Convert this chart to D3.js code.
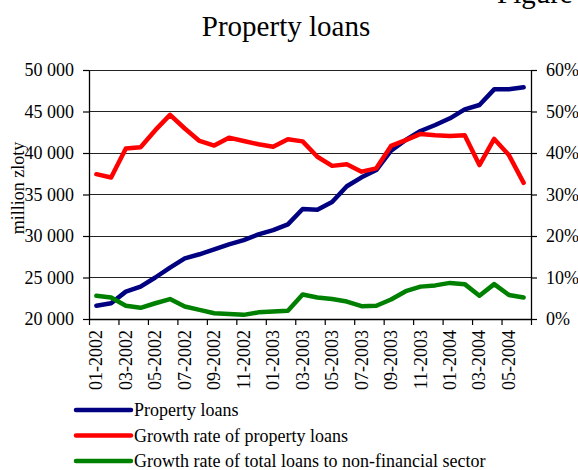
<!DOCTYPE html>
<html>
<head>
<meta charset="utf-8">
<script src="https://cdn.jsdelivr.net/npm/d3@7/dist/d3.min.js"></script>
<style>
  html, body { margin: 0; padding: 0; background: #fff; }
  svg { display: block; }
</style>
</head>
<body>
<svg id="chart" width="578" height="470"></svg>
<script>
// Monthly observations, 01-2002 .. 06-2004
const months = [
  "01-2002","02-2002","03-2002","04-2002","05-2002","06-2002","07-2002","08-2002","09-2002","10-2002","11-2002","12-2002",
  "01-2003","02-2003","03-2003","04-2003","05-2003","06-2003","07-2003","08-2003","09-2003","10-2003","11-2003","12-2003",
  "01-2004","02-2004","03-2004","04-2004","05-2004","06-2004"
];

// Property loans, million zloty (left axis)
const propertyLoans = [
  21600, 21900, 23300, 23900, 25000, 26200, 27300, 27800, 28400, 29000, 29500, 30200,
  30700, 31400, 33250, 33170, 34100, 36000, 37070, 37950, 40280, 41570, 42650, 43370,
  44180, 45260, 45780, 47670, 47670, 47910
];

// Growth rate of property loans, % (right axis)
const propertyGrowth = [
  34.9, 34.1, 41.1, 41.4, 45.5, 49.2, 45.9, 42.9, 41.8, 43.7, 42.9, 42.1,
  41.5, 43.3, 42.8, 39.1, 36.9, 37.3, 35.5, 36.3, 41.7, 43.1, 44.6, 44.3,
  44.1, 44.3, 37.1, 43.4, 39.5, 32.8
];

// Growth rate of total loans to non-financial sector, % (right axis)
const totalGrowth = [
  5.6, 5.2, 3.2, 2.7, 3.8, 4.8, 3.0, 2.2, 1.4, 1.2, 1.0, 1.6,
  1.8, 2.0, 5.9, 5.2, 4.8, 4.2, 3.1, 3.2, 4.7, 6.7, 7.8, 8.1,
  8.7, 8.4, 5.6, 8.4, 5.8, 5.2
];

const leftTicks = [20000, 25000, 30000, 35000, 40000, 45000, 50000];
const rightTicks = [0, 10, 20, 30, 40, 50, 60];

const series = [
  { name: "Property loans", values: propertyLoans, axis: "left", color: "#000080" },
  { name: "Growth rate of property loans", values: propertyGrowth, axis: "right", color: "#ff0000" },
  { name: "Growth rate of total loans to non-financial sector", values: totalGrowth, axis: "right", color: "#008000" }
];

const FONT = '"Liberation Serif", "Times New Roman", "DejaVu Serif", serif';
const svg = d3.select("#chart");
const plot = { left: 89, right: 531, top: 70, bottom: 319 };
const fs = 18;

const x = d3.scaleBand().domain(months).range([plot.left, plot.right]).padding(0);
const xEdge = d3.scaleLinear().domain([0, months.length]).range([plot.left, plot.right]);
const yL = d3.scaleLinear().domain([20000, 50000]).range([plot.bottom, plot.top]);
const yR = d3.scaleLinear().domain([0, 60]).range([plot.bottom, plot.top]);

// horizontal gridlines
svg.append("g")
  .selectAll("line")
  .data(leftTicks.slice(1))
  .join("line")
  .attr("x1", plot.left).attr("x2", plot.right)
  .attr("y1", d => yL(d)).attr("y2", d => yL(d))
  .attr("stroke", "#222").attr("stroke-width", 1)
  .attr("shape-rendering", "crispEdges");

// left axis
const fmtSpace = d => d3.format(",")(d).replace(/,/g, " ");
const gL = svg.append("g")
  .attr("transform", `translate(${plot.left},0)`)
  .call(d3.axisLeft(yL).tickValues(leftTicks).tickFormat(fmtSpace).tickSizeInner(6).tickSizeOuter(0).tickPadding(9));

// right axis
const gR = svg.append("g")
  .attr("transform", `translate(${plot.right},0)`)
  .call(d3.axisRight(yR).tickValues(rightTicks).tickFormat(d => d + "%").tickSizeInner(6).tickSizeOuter(0).tickPadding(9));

// bottom axis: tick marks every two months on category boundaries
const edgeTicks = d3.range(0, months.length + 1, 2);
const gB = svg.append("g")
  .attr("transform", `translate(0,${plot.bottom})`)
  .call(d3.axisBottom(xEdge).tickValues(edgeTicks).tickFormat("").tickSizeInner(6).tickSizeOuter(0));

[gL, gR, gB].forEach(g => {
  g.attr("font-family", null).attr("font-size", null);
  g.select(".domain").attr("stroke", "#000").attr("stroke-width", 1.3);
  g.selectAll(".tick line").attr("stroke", "#000").attr("stroke-width", 1.2);
  g.selectAll("text").style("font-family", FONT).style("font-size", fs + "px").attr("fill", "#000");
});

// rotated month labels on every other month
svg.append("g")
  .selectAll("text")
  .data(months.filter((m, i) => i % 2 === 0))
  .join("text")
  .attr("transform", d => `translate(${x(d) + x.bandwidth() / 2 + 6},${plot.bottom + 11}) rotate(-90)`)
  .attr("text-anchor", "end")
  .style("font-family", FONT).style("font-size", fs + "px")
  .text(d => d);

// series lines
const lineFor = s => d3.line()
  .x((d, i) => x(months[i]) + x.bandwidth() / 2)
  .y(d => (s.axis === "left" ? yL(d) : yR(d)));

svg.append("g")
  .selectAll("path")
  .data(series)
  .join("path")
  .attr("d", s => lineFor(s)(s.values))
  .attr("fill", "none")
  .attr("stroke", s => s.color)
  .attr("stroke-width", 4.5)
  .attr("stroke-linejoin", "round")
  .attr("stroke-linecap", "round");

// axis title
svg.append("text")
  .attr("transform", "translate(24,188) rotate(-90)")
  .attr("text-anchor", "middle")
  .style("font-family", FONT).style("font-size", fs + "px")
  .text("million zloty");

// chart title
svg.append("text")
  .attr("x", 286).attr("y", 36)
  .attr("text-anchor", "middle")
  .style("font-family", FONT).style("font-size", "29px")
  .text("Property loans");

svg.append("text")
  .attr("x", 497).attr("y", 3)
  .style("font-family", FONT).style("font-size", "29px")
  .text("Figure");

// legend
const legend = svg.append("g")
  .selectAll("g")
  .data(series)
  .join("g")
  .attr("transform", (d, i) => `translate(76,${410 + i * 25.5})`);

legend.append("line")
  .attr("x1", 0).attr("x2", 55)
  .attr("stroke", d => d.color)
  .attr("stroke-width", 4.5)
  .attr("stroke-linecap", "round");

legend.append("text")
  .attr("x", 58).attr("y", 6)
  .style("font-family", FONT).style("font-size", fs + "px")
  .text(d => d.name);
</script>
</body>
</html>
